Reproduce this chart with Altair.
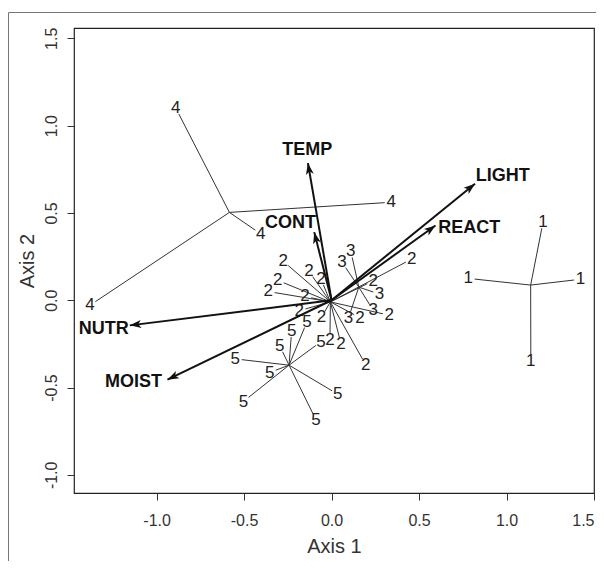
import math
import altair as alt
import pandas as pd

# ---- site scores (label positions) for each group ----
g1_x = [1.209, 0.781, 1.423, 1.139]
g1_y = [0.449, 0.125, 0.120, -0.347]
g2_x = [-0.276, -0.129, -0.061, -0.308, -0.362, -0.152, -0.185, -0.057, -0.009, 0.054, 0.195, 0.162, 0.330, 0.238, 0.458]
g2_y = [0.223, 0.165, 0.123, 0.114, 0.050, 0.022, -0.060, -0.097, -0.227, -0.250, -0.369, -0.100, -0.086, 0.111, 0.236]
g3_x = [0.110, 0.060, 0.274, 0.238, 0.097]
g3_y = [0.281, 0.217, 0.035, -0.058, -0.100]
g4_x = [-0.890, 0.341, -0.405, -1.381]
g4_y = [1.100, 0.561, 0.380, -0.029]
g5_x = [-0.550, -0.296, -0.228, -0.354, -0.504, 0.035, -0.089, -0.060, -0.140]
g5_y = [-0.336, -0.262, -0.174, -0.414, -0.580, -0.538, -0.685, -0.237, -0.122]

# ---- environmental vectors ----
env_names = ["TEMP", "LIGHT", "REACT", "CONT", "NUTR", "MOIST"]
env_x = [-0.135, 0.820, 0.594, -0.099, -1.153, -0.938]
env_y = [0.785, 0.667, 0.428, 0.390, -0.144, -0.455]
env_label_x = [-0.139, 0.978, 0.787, -0.235, -1.302, -1.132]
env_label_y = [0.858, 0.712, 0.415, 0.442, -0.166, -0.470]

x_ticks = [-1.0, -0.5, 0.0, 0.5, 1.0, 1.5]
y_ticks = [-1.0, -0.5, 0.0, 0.5, 1.0, 1.5]

X_DOMAIN = [-1.472, 1.5]
Y_DOMAIN = [-1.104, 1.559]
W, H = 520, 465
PX_X = W / (X_DOMAIN[1] - X_DOMAIN[0])
PX_Y = H / (Y_DOMAIN[1] - Y_DOMAIN[0])
GAP = 6.5  # px gap between spoke end and label centre

groups = [("1", g1_x, g1_y), ("2", g2_x, g2_y), ("3", g3_x, g3_y),
          ("4", g4_x, g4_y), ("5", g5_x, g5_y)]
site_rows, spoke_rows = [], []
for g, xs_, ys_ in groups:
    cx = sum(xs_) / len(xs_)
    cy = sum(ys_) / len(ys_)
    for sx, sy in zip(xs_, ys_):
        site_rows.append({"x": sx, "y": sy, "grp": g})
        dx = (sx - cx) * PX_X
        dy = (sy - cy) * PX_Y
        L = math.hypot(dx, dy)
        f = max(L - GAP, 0.0) / L if L > 0 else 0.0
        spoke_rows.append({"x": cx, "y": cy,
                           "x2": cx + (sx - cx) * f, "y2": cy + (sy - cy) * f})
sites = pd.DataFrame(site_rows)
spokes = pd.DataFrame(spoke_rows)

arrows = pd.DataFrame({
    "name": env_names,
    "x": [0.0] * len(env_names), "y": [0.0] * len(env_names),
    "x2": env_x, "y2": env_y,
    "ang": [(math.degrees(math.atan2(ex * PX_X, ey * PX_Y)) + 360.0) % 360.0
            for ex, ey in zip(env_x, env_y)],
    "lx": env_label_x, "ly": env_label_y,
})

FONT = "Liberation Sans"
INK = "#222222"
label_expr = "datum.value < 0 ? '-' + format(-datum.value, '.1f') : format(datum.value, '.1f')"

xscale = alt.Scale(domain=X_DOMAIN, nice=False, zero=False)
yscale = alt.Scale(domain=Y_DOMAIN, nice=False, zero=False)
x_axis = alt.Axis(values=x_ticks, labelExpr=label_expr, title="Axis 1", grid=False,
                  domain=False, tickSize=7, tickColor="#333333", tickWidth=1,
                  labelFont=FONT, labelFontSize=16, labelColor="#333333",
                  labelPadding=12, labelFlush=True, labelOverlap=False,
                  titleFont=FONT, titleFontSize=20, titleFontWeight="normal",
                  titleColor="#333333", titlePadding=8)
y_axis = alt.Axis(values=y_ticks, labelExpr=label_expr, title="Axis 2", grid=False,
                  domain=False, tickSize=7, tickColor="#333333", tickWidth=1,
                  labelFont=FONT, labelFontSize=16, labelColor="#333333",
                  labelAngle=270, labelAlign="center", labelBaseline="bottom",
                  labelPadding=8, labelFlush=False, labelOverlap=False,
                  titleFont=FONT, titleFontSize=20, titleFontWeight="normal",
                  titleColor="#333333", titlePadding=6)


def X(f):
    return alt.X(f, type="quantitative", scale=xscale, axis=x_axis)


def Y(f):
    return alt.Y(f, type="quantitative", scale=yscale, axis=y_axis)


frame = alt.Chart(pd.DataFrame({"k": [0]})).mark_rect(
    fill="transparent", stroke="#777777", strokeWidth=1
).encode(x=alt.value(-65.5), x2=alt.value(700), y=alt.value(-15.5), y2=alt.value(700))

spoke_layer = alt.Chart(spokes).mark_rule(color="#333333", strokeWidth=1).encode(
    x=X("x"), y=Y("y"), x2="x2", y2="y2")

site_layer = alt.Chart(sites).mark_text(
    font=FONT, fontSize=17, color=INK, align="center", baseline="middle"
).encode(x=X("x"), y=Y("y"), text="grp:N")

shaft_layer = alt.Chart(arrows).mark_rule(color="#111111", strokeWidth=2).encode(
    x=X("x"), y=Y("y"), x2="x2", y2="y2")

head_layer = alt.Chart(arrows).mark_point(
    shape="M0,0L-0.7,2L0,1.5L0.7,2Z", filled=True, size=130,
    fill="#111111", strokeWidth=0, opacity=1
).encode(x=X("x2"), y=Y("y2"), angle=alt.Angle("ang:Q", scale=None))

env_label_layer = alt.Chart(arrows).mark_text(
    font=FONT, fontSize=18, fontWeight="bold", color="#111111",
    align="center", baseline="middle"
).encode(x=X("lx"), y=Y("ly"), text="name:N")

chart = alt.layer(
    frame, spoke_layer, site_layer, shaft_layer, head_layer, env_label_layer
).properties(
    width=W, height=H,
    autosize=alt.AutoSizeParams(type="none"),
    padding={"left": 66, "top": 20, "right": 2, "bottom": 68},
).configure_view(stroke="#222222", strokeWidth=1.2)

chart.save("out.html", embed_options={"renderer": "svg", "actions": False})
